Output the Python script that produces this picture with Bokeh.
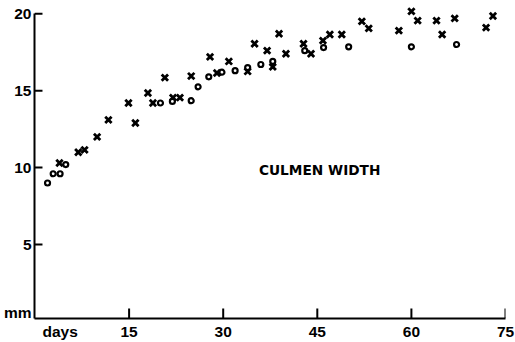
from bokeh.plotting import figure
from bokeh.models import Range1d, FixedTicker, Arrow
from bokeh.core.properties import value
from bokeh.embed import file_html
from bokeh.resources import INLINE

# Culmen width (mm) against age (days)
circle_days = [2.0, 2.9, 4.0, 4.9, 20.0, 21.9, 24.9, 26.0, 27.7, 29.8, 31.9, 33.9,
               36.0, 37.9, 43.0, 46.0, 50.0, 60.0, 67.2]
circle_mm = [9.0, 9.6, 9.6, 10.2, 14.2, 14.3, 14.35, 15.25, 15.9, 16.2, 16.3, 16.5,
             16.7, 16.9, 17.6, 17.8, 17.85, 17.85, 18.0]

cross_days = [3.9, 6.9, 7.9, 9.9, 11.7, 14.9, 16.0, 18.0, 18.8, 20.7, 22.0, 23.1,
              24.9, 27.9, 29.0, 30.9, 33.9, 35.0, 37.0, 37.9, 38.9, 40.0, 42.8,
              44.0, 45.9, 47.0, 48.9, 52.1, 53.2, 58.0, 60.0, 61.0, 64.0, 64.9,
              66.9, 71.9, 73.0]
cross_mm = [10.3, 11.0, 11.15, 12.0, 13.1, 14.2, 12.9, 14.85, 14.2, 15.85, 14.55,
            14.55, 15.95, 17.2, 16.15, 16.9, 16.25, 18.05, 17.6, 16.55, 18.7, 17.4,
            18.05, 17.4, 18.25, 18.65, 18.65, 19.5, 19.05, 18.9, 20.15, 19.55,
            19.55, 18.65, 19.7, 19.1, 19.85]

x_ticks = [15, 30, 45, 60, 75]
y_ticks = [5, 10, 15, 20]
# unit captions sit on the axes, next to the first tick labels
x_unit_pos, x_unit = 4, "days"
y_unit_pos, y_unit = 0.6, "mm"

FONT = "Liberation Sans"
X0, X1 = -0.08, 75
Y0, Y1 = 0.195, 20.6

p = figure(width=515, height=342, output_backend="svg", toolbar_location=None,
           x_range=Range1d(X0, X1), y_range=Range1d(Y0, Y1),
           min_border_left=33, min_border_right=10, min_border_top=4,
           min_border_bottom=23)
p.grid.visible = False
p.outline_line_color = None
p.background_fill_color = None
p.border_fill_color = None

for ax in (p.xaxis, p.yaxis):
    ax.axis_line_width = 2
    ax.axis_line_color = "black"
    ax.major_tick_out = 0
    ax.major_tick_in = 0
    ax.major_tick_line_color = None
    ax.minor_tick_line_color = None
    ax.major_label_text_font = FONT
    ax.major_label_text_font_style = "bold"
    ax.major_label_text_font_size = "15.5px"
    ax.major_label_text_color = "black"

p.xaxis.ticker = FixedTicker(ticks=[x_unit_pos] + x_ticks)
p.xaxis.major_label_overrides = {x_unit_pos: x_unit}
p.xaxis.major_label_standoff = 4
p.yaxis.ticker = FixedTicker(ticks=[y_unit_pos] + y_ticks)
p.yaxis.major_label_overrides = {y_unit_pos: y_unit}
p.yaxis.major_label_standoff = 3
p.yaxis.bounds = (Y0, 20)

# inward tick marks as head-less arrow annotations
dy = (Y1 - Y0) / 314.0   # data units per pixel, vertical
dx = (X1 - X0) / 472.0   # data units per pixel, horizontal
for t in x_ticks:
    p.add_layout(Arrow(x_start=t, y_start=Y0, x_end=t, y_end=Y0 + 10 * dy,
                       end=None, line_width=2, line_color="black",
                       level="overlay"))
for t in y_ticks:
    p.add_layout(Arrow(x_start=X0, y_start=t, x_end=X0 + 8 * dx, y_end=t,
                       end=None, line_width=2, line_color="black",
                       level="overlay"))

p.scatter(cross_days, cross_mm, marker="x", size=9, line_width=2.8,
          line_color="black")
p.scatter(circle_days, circle_mm, marker="circle", size=5, line_width=2.2,
          line_color="black", fill_color="white")

p.text(x=[35.7], y=[9.87], text=["CULMEN WIDTH"], text_font=value("DejaVu Sans"),
       text_font_style="bold", text_font_size="13.7px", text_color="black",
       text_baseline="middle", text_align="left")

open("out.html", "w").write(file_html(p, INLINE))
